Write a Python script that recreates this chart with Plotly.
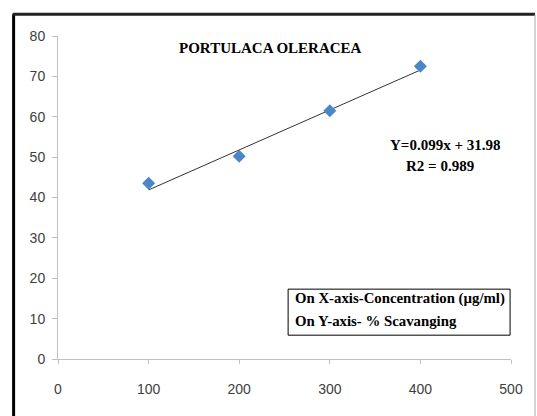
import plotly.graph_objects as go

# Data
concentration = [100, 200, 300, 400]
scavenging = [43.5, 50.2, 61.5, 72.5]
slope = 0.099
intercept = 31.98
trend_x = [100, 400]
trend_y = [slope * v + intercept for v in trend_x]
x_ticks = [0, 100, 200, 300, 400, 500]
y_ticks = [0, 10, 20, 30, 40, 50, 60, 70, 80]

serif = "Liberation Serif, Times New Roman, serif"
sans = "Liberation Sans, Arial, sans-serif"

fig = go.Figure()
fig.add_trace(go.Scatter(x=trend_x, y=trend_y, mode="lines",
                         line=dict(color="#333333", width=1), hoverinfo="skip",
                         showlegend=False))
fig.add_trace(go.Scatter(x=concentration, y=scavenging, mode="markers",
                         marker=dict(symbol="diamond", size=10, color="#4a86c8",
                                     line=dict(width=0)),
                         showlegend=False))

fig.update_layout(
    width=537, height=416, autosize=False,
    margin=dict(l=58, r=26, t=36, b=57),
    paper_bgcolor="white", plot_bgcolor="white",
    xaxis=dict(range=[0, 500], tickvals=x_ticks, showgrid=False, zeroline=False,
               showline=True, linecolor="#c0c0c0", linewidth=1,
               ticks="outside", ticklen=4, tickcolor="#c0c0c0",
               tickfont=dict(family=sans, size=14, color="#404040"),
               ticklabelstandoff=13),
    yaxis=dict(range=[0, 80], tickvals=y_ticks, showgrid=False, zeroline=False,
               showline=True, linecolor="#c0c0c0", linewidth=1,
               ticks="outside", ticklen=5, tickcolor="#c0c0c0",
               tickfont=dict(family=sans, size=14, color="#404040"),
               ticklabelstandoff=4),
    shapes=[
        dict(type="line", xref="paper", yref="paper", x0=-0.098, x1=-0.098,
             y0=1.067, y1=-0.2, line=dict(color="black", width=3)),
        dict(type="line", xref="paper", yref="paper", x0=-0.1, x1=1.053,
             y0=1.067, y1=1.067, line=dict(color="#222222", width=3)),
        dict(type="line", xref="paper", yref="paper", x0=1.053, x1=1.053,
             y0=1.067, y1=-0.2, line=dict(color="#aaaaaa", width=1)),
        dict(type="rect", xref="x", yref="y", x0=254, x1=499, y0=5.9, y1=17.3,
             line=dict(color="black", width=1), fillcolor="white"),
    ],
    annotations=[
        dict(x=234, y=77, xref="x", yref="y", text="<b>PORTULACA OLERACEA</b>",
             showarrow=False, font=dict(family=serif, size=15, color="black")),
        dict(x=427, y=53, xref="x", yref="y", text="<b>Y=0.099x + 31.98</b>",
             showarrow=False, font=dict(family=serif, size=15, color="black")),
        dict(x=422, y=47.8, xref="x", yref="y", text="<b>R2 = 0.989</b>",
             showarrow=False, font=dict(family=serif, size=15, color="black")),
        dict(x=259, y=15.1, xref="x", yref="y", xanchor="left",
             text="<b>On X-axis-Concentration (µg/ml)</b>",
             showarrow=False, font=dict(family=serif, size=14.8, color="black")),
        dict(x=259, y=9.4, xref="x", yref="y", xanchor="left",
             text="<b>On Y-axis- % Scavanging</b>",
             showarrow=False, font=dict(family=serif, size=14.8, color="black")),
    ],
)

fig.write_html(
    "out.html",
    config={"displayModeBar": False},
    post_script="document.body.style.margin='0';document.body.style.overflow='hidden';",
)
